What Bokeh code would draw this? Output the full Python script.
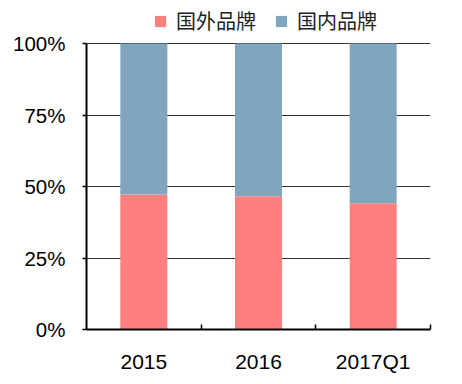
from bokeh.plotting import figure
from bokeh.models import Range1d, FixedTicker, NumeralTickFormatter, Legend, LegendItem, ColumnDataSource
from bokeh.embed import file_html
from bokeh.resources import INLINE

categories = ["2015", "2016", "2017Q1"]
foreign = [0.472, 0.466, 0.441]
domestic = [1 - v for v in foreign]
series_names = ["国外品牌", "国内品牌"]
y_ticks = [0, 0.25, 0.5, 0.75, 1.0]

RED = "#FF7F7F"
BLUE = "#7FA5BF"

x = [i + 0.5 for i in range(len(categories))]
src = ColumnDataSource(dict(x=x, cat=categories, foreign=foreign, domestic=domestic,
                            total=[a + b for a, b in zip(foreign, domestic)]))

# frame spans the full height above the x axis; headroom holds the legend
FRAME_H = 329
PLOT_H = 286
p = figure(width=462, height=384, output_backend="svg", toolbar_location=None,
           x_range=Range1d(0, len(categories)), y_range=Range1d(0, FRAME_H / PLOT_H),
           min_border_left=86, min_border_right=32, min_border_top=0, min_border_bottom=55)
p.outline_line_color = None
p.background_fill_color = "white"

r1 = p.vbar(x="x", width=0.41, bottom=0, top="foreign", source=src, fill_color=RED, line_color=None)
r2 = p.vbar(x="x", width=0.41, bottom="foreign", top="total", source=src, fill_color=BLUE, line_color=None)

# x axis
p.xaxis.ticker = FixedTicker(ticks=x, minor_ticks=list(range(1, len(categories) + 1)))
p.xaxis.major_label_overrides = {xx: c for xx, c in zip(x, categories)}
p.xaxis.major_tick_in = 0
p.xaxis.major_tick_out = 0
p.xaxis.minor_tick_in = 5
p.xaxis.minor_tick_out = 0
p.xaxis.minor_tick_line_color = "black"
p.xaxis.minor_tick_line_width = 1.5
p.xaxis.axis_line_color = "black"
p.xaxis.axis_line_width = 2
p.xaxis.major_label_text_font = "Liberation Sans"
p.xaxis.major_label_text_font_size = "21px"
p.xaxis.major_label_text_color = "black"
p.xaxis.major_label_standoff = 20

# y axis
p.yaxis.ticker = FixedTicker(ticks=y_ticks, minor_ticks=[])
p.yaxis.bounds = (0, 1)
p.yaxis.formatter = NumeralTickFormatter(format="0%")
p.yaxis.major_tick_in = 0
p.yaxis.major_tick_out = 4
p.yaxis.major_tick_line_color = "black"
p.yaxis.major_tick_line_width = 1.5
p.yaxis.axis_line_color = "black"
p.yaxis.axis_line_width = 2
p.yaxis.major_label_text_font = "Liberation Sans"
p.yaxis.major_label_text_font_size = "20.5px"
p.yaxis.major_label_text_color = "black"
p.yaxis.major_label_standoff = 17

p.xgrid.grid_line_color = None
p.ygrid.ticker = FixedTicker(ticks=y_ticks)
p.ygrid.grid_line_color = "#333333"
p.ygrid.grid_line_width = 1.2

legend = Legend(items=[LegendItem(label=series_names[0], renderers=[r1]),
                       LegendItem(label=series_names[1], renderers=[r2])],
                orientation="horizontal", location=(67, 294),
                border_line_color=None, background_fill_alpha=0,
                padding=0, margin=0, spacing=18, label_standoff=9,
                glyph_width=14, glyph_height=14,
                label_text_font="Noto Sans CJK SC", label_text_font_size="20px",
                label_text_color="#222222")
p.add_layout(legend, "center")

open("out.html", "w").write(file_html(p, INLINE))
